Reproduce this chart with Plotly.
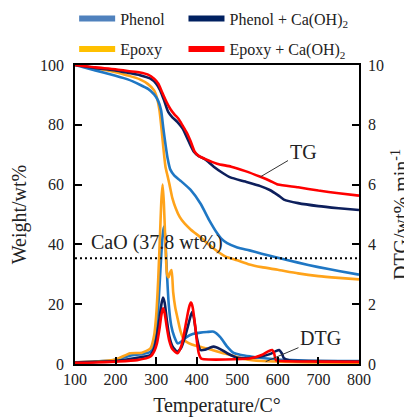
import plotly.graph_objects as go

# ---------------- data ----------------
phenol_tg_T = [100,150,200,230,260,280,295,305,312,318,323,328,335,345,360,385,410,430,450,460,475,500,530,560,600,650,700,750,800]
phenol_tg_W = [100,98.2,96.4,95.2,93.4,92.0,90.2,88.0,85.0,78.5,73.5,69.0,65.0,63.0,61.3,58.2,53.5,48.3,43.8,42.0,40.4,39.0,38.0,36.9,35.5,33.9,32.4,31.1,29.9]

epoxy_tg_T = [100,150,200,230,260,280,295,302,308,313,318,323,328,333,340,348,358,370,385,410,440,470,500,530,560,600,650,700,750,800]
epoxy_tg_W = [100,98.9,97.6,96.5,95.2,93.6,91.5,89,85,79,72,66,63,60,55.5,52.2,49.2,47,45,42.3,38.8,36,34.7,33.3,32.4,31.5,30.3,29.4,28.8,28.3]

phenol_ca_tg_T = [100,150,200,230,260,285,300,310,320,330,340,352,365,380,393,405,420,442,465,483,520,557,580,600,615,650,700,750,800]
phenol_ca_tg_W = [100,99.0,98.2,97.4,96.6,95.5,93.8,91.5,88,84.2,82.5,81.0,78.8,74.5,71.0,69.5,68.5,66.0,63.8,62.4,61.0,59.5,58.2,56.5,55.0,53.8,52.8,52.1,51.5]

epoxy_ca_tg_T = [100,150,200,230,260,280,295,305,315,325,335,345,355,365,375,385,395,405,420,450,485,520,557,580,600,650,700,750,800]
epoxy_ca_tg_W = [100,99.2,98.6,98.0,97.5,96.8,95.4,93.8,90.8,87.8,85.3,83.5,82.0,79.8,77.5,74.5,71.0,69.6,68.6,67.0,66.0,64.5,62.6,61.3,60.0,59.1,58.0,57.1,56.3]

phenol_dtg_T = [100,150,200,236,265,286,296,302,307,312,316,319,322,326,331,337,345,353,362,375,390,409,425,442,458,475,491,510,533,560,600,650,700,750,800]
phenol_dtg_V = [0.06,0.08,0.14,0.28,0.33,0.41,0.7,1.3,2.3,3.5,4.3,4.6,4.3,3.2,2.0,1.3,0.9,0.69,0.75,0.9,1.0,1.05,1.07,1.08,0.9,0.58,0.37,0.3,0.25,0.2,0.15,0.12,0.1,0.1,0.1]

epoxy_dtg_T = [100,150,200,236,265,286,295,300,305,310,313,316,319,323,327,331,334,338,342,347,352,360,368,380,400,426,455,483,520,560,600,650,700,800]
epoxy_dtg_V = [0.05,0.08,0.15,0.36,0.38,0.52,0.95,1.6,2.8,4.5,5.5,6.0,5.4,4.0,3.0,2.9,3.05,3.14,2.4,1.9,1.58,1.1,0.82,0.7,0.6,0.52,0.4,0.3,0.16,0.1,0.08,0.06,0.05,0.04]

phenol_ca_dtg_T = [100,150,200,250,286,296,302,308,313,317,321,326,332,340,352,362,372,380,386,389,393,400,409,420,430,442,458,475,500,530,558,580,595,603,610,615,630,700,800]
phenol_ca_dtg_V = [0.05,0.07,0.1,0.2,0.3,0.55,0.95,1.5,2.0,2.22,2.05,1.5,0.95,0.6,0.41,0.55,0.95,1.35,1.65,1.75,1.55,0.9,0.47,0.48,0.53,0.58,0.5,0.36,0.21,0.2,0.25,0.33,0.43,0.47,0.35,0.19,0.12,0.1,0.08]

epoxy_ca_dtg_T = [100,150,200,253,286,296,302,308,313,317,321,326,332,340,353,362,370,378,383,386,390,396,401,405,409,413,430,470,533,560,576,586,591,595,610,700,800]
epoxy_ca_dtg_V = [0.04,0.05,0.08,0.13,0.25,0.45,0.69,1.15,1.65,1.86,1.7,1.25,0.8,0.5,0.36,0.6,1.1,1.7,1.98,2.06,1.9,1.3,0.7,0.36,0.22,0.17,0.15,0.15,0.19,0.3,0.42,0.47,0.35,0.13,0.1,0.08,0.07]

cao_level = 35.4
x_ticks = [100,200,300,400,500,600,700,800]
y_ticks = [0,20,40,60,80,100]
y2_ticks = [0,2,4,6,8,10]

legend_names = ["Phenol", "Phenol + Ca(OH)<sub>2</sub>", "Epoxy", "Epoxy + Ca(OH)<sub>2</sub>"]
legend_colors = ["#4F81BD", "#002060", "#FFC000", "#FF0000"]

# ---------------- style ----------------
FONT = "Liberation Serif"
TXT = "#222222"
C_BLUE = "#1f77c4"
C_ORANGE = "#FFA31A"
C_NAVY = "#0d1f5c"
C_RED = "#FF0000"
LW = 2.6

fig = go.Figure()

def add(x, y, color, yaxis="y"):
    fig.add_trace(go.Scatter(x=x, y=y, mode="lines", yaxis=yaxis, showlegend=False,
                             line=dict(color=color, width=LW, shape="spline", smoothing=0.6),
                             hoverinfo="skip"))

# TG
add(epoxy_tg_T, epoxy_tg_W, C_ORANGE)
add(phenol_tg_T, phenol_tg_W, C_BLUE)
add(phenol_ca_tg_T, phenol_ca_tg_W, C_NAVY)
add(epoxy_ca_tg_T, epoxy_ca_tg_W, C_RED)
# DTG
add(phenol_dtg_T, phenol_dtg_V, C_BLUE, "y2")
add(epoxy_dtg_T, epoxy_dtg_V, C_ORANGE, "y2")
add(phenol_ca_dtg_T, phenol_ca_dtg_V, C_NAVY, "y2")
add(epoxy_ca_dtg_T, epoxy_ca_dtg_V, C_RED, "y2")

# legend entries: one legend box per entry (2 x 2 grid)
legend_ids = ["legend", "legend2", "legend3", "legend4"]
legend_pos = [(-0.003, 1.155), (0.382, 1.155), (-0.003, 1.053), (0.382, 1.053)]
for name, color, lid in zip(legend_names, legend_colors, legend_ids):
    fig.add_trace(go.Scatter(x=[None], y=[None], mode="lines", name=name, legend=lid,
                             line=dict(color=color, width=6)))

legend_layout = {}
for lid, (lx, ly) in zip(legend_ids, legend_pos):
    legend_layout[lid] = dict(x=lx, y=ly, xanchor="left", yanchor="middle", orientation="h",
                              itemwidth=36,
                              font=dict(family=FONT, size=16, color=TXT),
                              bgcolor="rgba(0,0,0,0)", itemclick=False, itemdoubleclick=False)

axis_common = dict(showline=True, linecolor="black", linewidth=1.6,
                   ticks="inside", ticklen=7, tickwidth=1.6, tickcolor="black",
                   showgrid=False, zeroline=False,
                   tickfont=dict(family=FONT, size=16, color=TXT))

# page body adds an 8px offset, so the figure is 8px smaller than the window
fig.update_layout(
    width=404, height=409,
    margin=dict(l=67, r=53, t=57, b=53, autoexpand=False),
    font=dict(family=FONT, color=TXT),
    paper_bgcolor="white", plot_bgcolor="white",
    xaxis=dict(range=[100, 800], tickvals=x_ticks, mirror=True,
               title=dict(text="Temperature/C°", font=dict(family=FONT, size=20, color=TXT), standoff=12),
               **axis_common),
    yaxis=dict(range=[0, 100], tickvals=y_ticks, ticklabelstandoff=6,
               title=dict(text="Weight/wt%", font=dict(family=FONT, size=20, color=TXT), standoff=11),
               **axis_common),
    yaxis2=dict(range=[0, 10], tickvals=y2_ticks, overlaying="y", side="right", ticklabelstandoff=4,
                title=dict(text="DTG/wt% min<sup>-1</sup>", font=dict(family=FONT, size=20, color=TXT), standoff=14),
                **axis_common),
    showlegend=True,
    **legend_layout,
)

fig.add_shape(type="line", xref="x", yref="y", x0=100, x1=800, y0=cao_level, y1=cao_level,
              line=dict(color="black", width=2, dash="2px,3px"))

fig.add_annotation(x=135, y=40.5, xref="x", yref="y", text="CaO (37.8 wt%)", showarrow=False,
                   xanchor="left", yanchor="middle", font=dict(family=FONT, size=20, color=TXT))
fig.add_annotation(x=557, y=62.6, xref="x", yref="y", ax=662, ay=71, axref="x", ayref="y",
                   text="TG", showarrow=True, arrowhead=0, arrowwidth=1, arrowcolor="#333",
                   font=dict(family=FONT, size=20, color=TXT))
fig.add_annotation(x=570, y=0.08, xref="x", yref="y2", ax=705, ay=0.86, axref="x", ayref="y2",
                   text="DTG", showarrow=True, arrowhead=0, arrowwidth=1, arrowcolor="#333",
                   font=dict(family=FONT, size=20, color=TXT))

fig.write_html("out.html")
